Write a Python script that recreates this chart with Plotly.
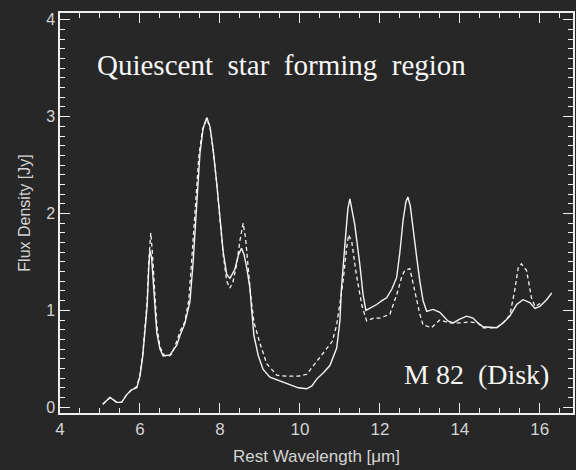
import plotly.graph_objects as go

# M 82 disk mid-IR spectrum: two spectra (solid and dashed)
wave_solid = [5.07, 5.25, 5.42, 5.54, 5.67, 5.79, 5.92, 6.00, 6.07, 6.12, 6.18, 6.22, 6.25, 6.29,
              6.33, 6.37, 6.42, 6.50, 6.58, 6.75, 6.92, 7.00, 7.12, 7.25, 7.33, 7.42, 7.50, 7.58,
              7.67, 7.75, 7.83, 7.92, 8.00, 8.08, 8.17, 8.25, 8.37, 8.47, 8.54, 8.60, 8.67, 8.75,
              8.79, 8.85, 8.96, 9.08, 9.25, 9.50, 9.75, 9.96, 10.17, 10.30, 10.42, 10.60, 10.75,
              10.92, 11.00, 11.04, 11.12, 11.20, 11.25, 11.30, 11.37, 11.50, 11.58, 11.65, 11.80,
              11.92, 12.05, 12.17, 12.30, 12.42, 12.50, 12.58, 12.65, 12.70, 12.76, 12.83, 12.92,
              13.00, 13.08, 13.17, 13.33, 13.50, 13.70, 13.83, 14.00, 14.17, 14.33, 14.45, 14.58,
              14.92, 15.08, 15.25, 15.42, 15.58, 15.75, 15.88, 16.00, 16.17, 16.30]
flux_solid = [0.03, 0.10, 0.05, 0.05, 0.13, 0.18, 0.20, 0.32, 0.53, 0.77, 1.05, 1.44, 1.62, 1.55,
              1.30, 1.05, 0.77, 0.60, 0.53, 0.54, 0.64, 0.74, 0.86, 1.09, 1.50, 2.10, 2.62, 2.88,
              2.99, 2.90, 2.66, 2.31, 1.96, 1.61, 1.37, 1.33, 1.42, 1.58, 1.64, 1.58, 1.44, 1.23,
              1.02, 0.74, 0.53, 0.39, 0.31, 0.27, 0.23, 0.20, 0.19, 0.22, 0.29, 0.36, 0.43,
              0.61, 0.89, 1.23, 1.65, 2.05, 2.15, 2.05, 1.89, 1.47, 1.16, 1.00, 1.03,
              1.06, 1.10, 1.13, 1.22, 1.34, 1.60, 1.93, 2.12, 2.17, 2.08, 1.82, 1.55,
              1.30, 1.10, 0.99, 1.01, 0.98, 0.89, 0.87, 0.91, 0.94, 0.92, 0.87, 0.83,
              0.82, 0.87, 0.94, 1.06, 1.11, 1.08, 1.02, 1.04, 1.11, 1.18]

wave_dashed = [5.07, 5.25, 5.42, 5.54, 5.67, 5.79, 5.92, 6.00, 6.07, 6.12, 6.18, 6.22, 6.27, 6.31,
               6.36, 6.42, 6.50, 6.60, 6.70, 6.80, 6.92, 7.00, 7.12, 7.22, 7.30, 7.38, 7.47, 7.56,
               7.66, 7.75, 7.83, 7.92, 8.00, 8.08, 8.17, 8.25, 8.33, 8.42, 8.50, 8.58, 8.64, 8.70,
               8.77, 8.85, 9.00, 9.17, 9.42, 9.67, 9.96, 10.17, 10.42, 10.67, 10.81, 10.92, 11.08,
               11.17, 11.22, 11.30, 11.40, 11.55, 11.67, 11.85, 12.00, 12.25, 12.42, 12.55, 12.62,
               12.75, 12.87, 13.00, 13.08, 13.29, 13.50, 13.75, 14.00, 14.25, 14.45, 14.58, 14.92,
               15.08, 15.25, 15.37, 15.46, 15.54, 15.67, 15.79, 15.88, 15.96, 16.05]
flux_dashed = [0.03, 0.10, 0.05, 0.05, 0.13, 0.18, 0.21, 0.33, 0.55, 0.80, 1.10, 1.50, 1.80, 1.60,
               1.20, 0.85, 0.62, 0.54, 0.52, 0.55, 0.68, 0.78, 0.88, 1.10, 1.55, 2.05, 2.58, 2.86,
               2.97, 2.90, 2.66, 2.31, 1.96, 1.58, 1.30, 1.23, 1.30, 1.48, 1.72, 1.90, 1.75, 1.45,
               1.15, 0.88, 0.66, 0.45, 0.33, 0.32, 0.32, 0.34, 0.47, 0.60, 0.68, 0.85, 1.30,
               1.65, 1.78, 1.70, 1.40, 1.05, 0.89, 0.92, 0.92, 0.96, 1.16, 1.35, 1.41,
               1.43, 1.20, 0.96, 0.85, 0.82, 0.90, 0.87, 0.87, 0.88, 0.87, 0.82, 0.82,
               0.87, 0.95, 1.20, 1.44, 1.48, 1.41, 1.13, 1.04, 1.06, 1.08]

# major tick spacing and minor subdivisions
x_tick_start, x_tick_step, x_minor_step = 4, 2, 0.5
y_tick_start, y_tick_step, y_minor_step = 0, 1, 0.1

BG = "#272727"
INK = "#efefef"
LABEL = "#d4d4d4"

fig = go.Figure()
fig.add_trace(go.Scatter(x=wave_solid, y=flux_solid, mode="lines",
                         line=dict(color="#f4f4f4", width=1.4), showlegend=False))
fig.add_trace(go.Scatter(x=wave_dashed, y=flux_dashed, mode="lines",
                         line=dict(color="#f4f4f4", width=1.3, dash="4px,3px"), showlegend=False))

fig.add_annotation(x=4.88, y=3.53, xref="x", yref="y", xanchor="left", yanchor="middle",
                   text="Quiescent  star  forming  region", showarrow=False,
                   font=dict(family="Liberation Serif", size=29, color="#f6f6f6"))
fig.add_annotation(x=16.27, y=0.34, xref="x", yref="y", xanchor="right", yanchor="middle",
                   text="M 82  (Disk)", showarrow=False,
                   font=dict(family="Liberation Serif", size=28, color="#f6f6f6"))

fig.update_layout(
    template="none",
    width=576, height=470, margin=dict(l=60, r=3, t=13, b=57, autoexpand=False),
    paper_bgcolor=BG, plot_bgcolor=BG,
    xaxis=dict(range=[4, 16.83], tickmode="linear", tick0=x_tick_start, dtick=x_tick_step,
               ticks="inside", ticklen=10, tickwidth=1.3, tickcolor=INK,
               showline=True, linecolor=INK, linewidth=1.5, mirror="allticks",
               showgrid=False, zeroline=False, automargin=False,
               minor=dict(dtick=x_minor_step, ticks="inside", ticklen=5, tickwidth=1.2,
                          tickcolor=INK, showgrid=False),
               tickfont=dict(family="Liberation Sans", size=17, color=LABEL),
               title=dict(text="Rest Wavelength [μm]", standoff=12,
                          font=dict(family="Liberation Sans", size=17, color=LABEL))),
    yaxis=dict(range=[-0.06, 4.07], tickmode="linear", tick0=y_tick_start, dtick=y_tick_step,
               ticks="inside", ticklen=10, tickwidth=1.3, tickcolor=INK,
               showline=True, linecolor=INK, linewidth=1.5, mirror="allticks",
               showgrid=False, zeroline=False, automargin=False,
               minor=dict(dtick=y_minor_step, ticks="inside", ticklen=5, tickwidth=1.2,
                          tickcolor=INK, showgrid=False),
               tickfont=dict(family="Liberation Sans", size=16, color=LABEL),
               title=dict(text="Flux Density [Jy]", standoff=12,
                          font=dict(family="Liberation Sans", size=16, color=LABEL))),
)

fig.write_html("out.html")
